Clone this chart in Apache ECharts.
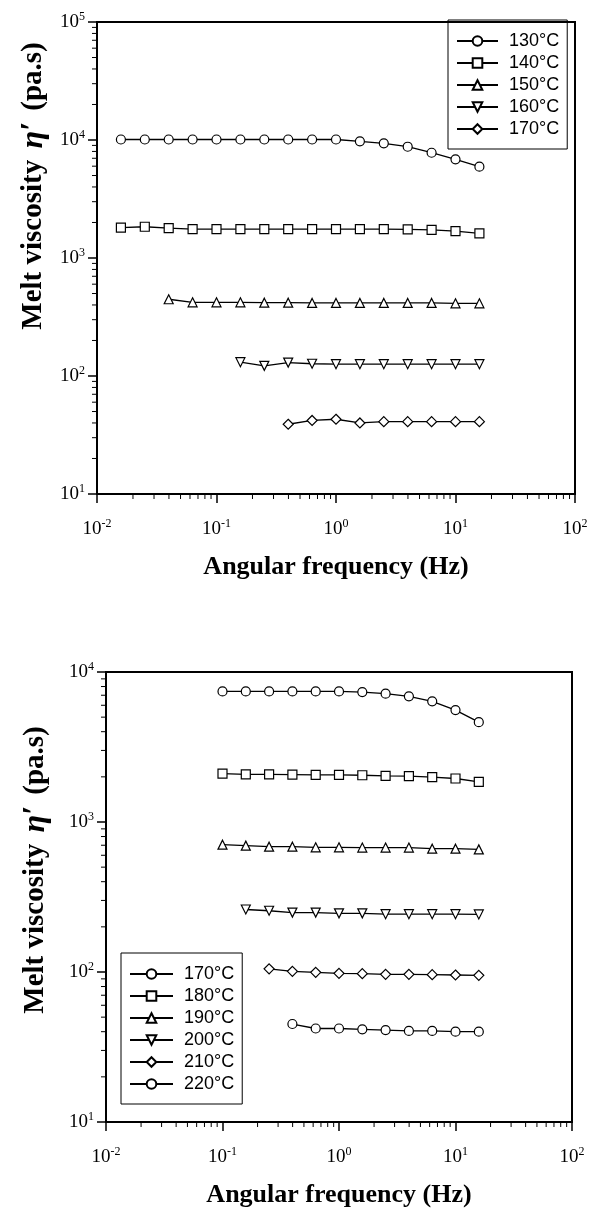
<!DOCTYPE html>
<html>
<head>
<meta charset="utf-8">
<script src="https://cdn.jsdelivr.net/npm/echarts@6/dist/echarts.min.js"></script>
<style>
  html, body { margin: 0; padding: 0; background: #fff; }
  #chart { width: 593px; height: 1209px; }
</style>
</head>
<body>
<div id="chart"></div>
<script>
// Angular frequencies of the sweep (Hz), five points per decade
const freq = [0.01585, 0.02512, 0.03981, 0.0631, 0.1, 0.1585, 0.2512, 0.3981,
              0.631, 1, 1.585, 2.512, 3.981, 6.31, 10, 15.85];

// Upper panel: melt viscosity (Pa.s), 130–170 °C
const topNames = ['130°C', '140°C', '150°C', '160°C', '170°C'];
const v130 = [10100, 10100, 10100, 10100, 10100, 10100, 10100, 10100, 10100, 10100, 9750, 9380, 8770, 7800, 6860, 5940];
const v140 = [1810, 1840, 1790, 1760, 1760, 1760, 1760, 1760, 1760, 1760, 1760, 1760, 1750, 1730, 1690, 1620];
const v150 = [447, 421, 421, 421, 418, 418, 416, 416, 416, 416, 416, 416, 413, 413];
const v160 = [131, 122, 130, 127, 126, 126, 126, 126, 126, 126, 126];
const v170 = [39, 42, 43, 40, 41, 41, 41, 41, 41];

// Lower panel: melt viscosity (Pa.s), 170–220 °C
const bottomNames = ['170°C', '180°C', '190°C', '200°C', '210°C', '220°C'];
const w170 = [7420, 7420, 7420, 7420, 7420, 7420, 7350, 7170, 6880, 6380, 5570, 4630];
const w180 = [2100, 2080, 2080, 2070, 2060, 2060, 2050, 2030, 2020, 1990, 1950, 1850];
const w190 = [706, 696, 685, 685, 678, 678, 675, 675, 675, 664, 664, 657];
const w200 = [261, 256, 249, 249, 246, 246, 243, 243, 243, 243, 242];
const w210 = [105, 101, 99.5, 98, 97.5, 96.5, 96.5, 96, 95.5, 95];
const w220 = [45, 42, 42, 41.5, 41, 40.5, 40.5, 40, 40];

// Axis ranges
const xMin = 0.01, xMax = 100;
const topYMin = 10, topYMax = 100000;
const botYMin = 10, botYMax = 10000;

// Decades and in-between multipliers for the logarithmic minor ticks
const minorMult = [2, 3, 4, 5, 6, 7, 8, 9];
function minorValues(lo, hi) {
  const out = [];
  for (let d = lo; d < hi; d *= 10) minorMult.forEach(m => out.push(d * m));
  return out;
}

// Pair a series with the highest frequencies of the sweep
function pairs(vals) {
  const f = freq.slice(freq.length - vals.length);
  return vals.map((v, i) => [f[i], v]);
}

const downTri = 'path://M0,0 L10,0 L5,9 Z';
const symTop = ['circle', 'rect', 'triangle', downTri, 'diamond'];
const symBottom = ['circle', 'rect', 'triangle', downTri, 'diamond', 'circle'];

const serif = 'Liberation Serif';
const sans = 'Liberation Sans';

const supRich = {
  b: { fontFamily: serif, fontSize: 19, color: '#000' },
  s: { fontFamily: serif, fontSize: 12, color: '#000', padding: [0, 0, 10, 0] }
};
const powLabel = v => '{b|10}{s|' + Math.round(Math.log10(v)) + '}';

function lineSeries(name, vals, sym, gi) {
  return {
    type: 'line', name: name, xAxisIndex: gi, yAxisIndex: gi,
    data: pairs(vals),
    symbol: sym, symbolSize: sym === 'diamond' ? 10 : 9,
    showSymbol: true,
    lineStyle: { color: '#000', width: 1.3 },
    itemStyle: { color: '#fff', borderColor: '#000', borderWidth: 1.2 },
    animation: false, z: 3
  };
}

// Short ticks drawn outside the frame at 2..9 × 10^k
function minorTicks(gi, dim, values, fixed) {
  return {
    type: 'custom', xAxisIndex: gi, yAxisIndex: gi, silent: true, clip: false,
    animation: false,
    data: values.map(v => dim === 'y' ? [fixed, v] : [v, fixed]),
    renderItem: (params, api) => {
      const p = api.coord([api.value(0), api.value(1)]);
      const shape = dim === 'y'
        ? { x1: p[0] - 5, y1: p[1], x2: p[0], y2: p[1] }
        : { x1: p[0], y1: p[1], x2: p[0], y2: p[1] + 5 };
      return { type: 'line', shape: shape, style: { stroke: '#000', lineWidth: 1 } };
    }
  };
}

function xAxisOf(gi) {
  return {
    type: 'log', logBase: 10, gridIndex: gi, min: xMin, max: xMax,
    axisLine: { lineStyle: { color: '#000', width: 2 } },
    axisTick: { inside: false, length: 9, lineStyle: { color: '#000', width: 1.5 } },
    splitLine: { show: false },
    axisLabel: { formatter: powLabel, rich: supRich, margin: 24 },
    name: 'Angular frequency (Hz)', nameLocation: 'middle', nameGap: 60,
    nameTextStyle: { fontFamily: serif, fontWeight: 'bold', fontSize: 26, color: '#000' }
  };
}
function yAxisOf(gi, lo, hi) {
  return {
    type: 'log', logBase: 10, gridIndex: gi, min: lo, max: hi,
    axisLine: { lineStyle: { color: '#000', width: 2 } },
    axisTick: { inside: false, length: 9, lineStyle: { color: '#000', width: 1.5 } },
    splitLine: { show: false },
    axisLabel: { formatter: powLabel, rich: supRich, margin: 12 }
  };
}

function legendOf(names, left, top, itemW) {
  return {
    data: names, orient: 'vertical', left: left, top: top,
    itemWidth: itemW, itemHeight: 12, itemGap: 4,
    padding: [12, 8, 11, 8],
    borderColor: '#000', borderWidth: 1,
    selectedMode: false,
    formatter: n => n.trim(),
    textStyle: { fontFamily: sans, fontSize: 18, color: '#000', padding: [0, 0, 0, 6] }
  };
}

function yTitle(x, y) {
  return {
    type: 'text', x: x, y: y, rotation: Math.PI / 2,
    style: {
      text: '{b|Melt viscosity }{i|η′}{b| (pa.s)}',
      align: 'center', verticalAlign: 'middle',
      rich: {
        b: { fontFamily: serif, fontWeight: 'bold', fontSize: 29, fill: '#000' },
        i: { fontFamily: serif, fontStyle: 'italic', fontWeight: 'bold', fontSize: 32, fill: '#000', padding: [0, 4, 0, 4] }
      }
    }
  };
}

// Second panel's 170 °C series gets a distinct internal name (trimmed in its legend)
const bottomSeriesNames = bottomNames.map((n, i) => i === 0 ? n + ' ' : n);

const option = {
  backgroundColor: '#fff',
  animation: false,
  grid: [
    { left: 97, top: 22, width: 478, height: 472, show: true, borderColor: '#000', borderWidth: 2, backgroundColor: 'transparent' },
    { left: 106, top: 672, width: 466, height: 455, show: true, borderColor: '#000', borderWidth: 2, backgroundColor: 'transparent' }
  ],
  xAxis: [xAxisOf(0), xAxisOf(1)],
  yAxis: [yAxisOf(0, topYMin, topYMax), yAxisOf(1, botYMin, botYMax)],
  legend: [
    legendOf(topNames, 448, 20, 41),
    legendOf(bottomSeriesNames, 121, 953, 43)
  ],
  graphic: [yTitle(34, 186), yTitle(36, 870)],
  series: [
    lineSeries(topNames[0], v130, symTop[0], 0),
    lineSeries(topNames[1], v140, symTop[1], 0),
    lineSeries(topNames[2], v150, symTop[2], 0),
    lineSeries(topNames[3], v160, symTop[3], 0),
    lineSeries(topNames[4], v170, symTop[4], 0),
    lineSeries(bottomSeriesNames[0], w170, symBottom[0], 1),
    lineSeries(bottomSeriesNames[1], w180, symBottom[1], 1),
    lineSeries(bottomSeriesNames[2], w190, symBottom[2], 1),
    lineSeries(bottomSeriesNames[3], w200, symBottom[3], 1),
    lineSeries(bottomSeriesNames[4], w210, symBottom[4], 1),
    lineSeries(bottomSeriesNames[5], w220, symBottom[5], 1),
    minorTicks(0, 'x', minorValues(xMin, xMax), topYMin),
    minorTicks(0, 'y', minorValues(topYMin, topYMax), xMin),
    minorTicks(1, 'x', minorValues(xMin, xMax), botYMin),
    minorTicks(1, 'y', minorValues(botYMin, botYMax), xMin)
  ]
};

const chart = echarts.init(document.getElementById('chart'), null, { renderer: 'canvas' });
chart.setOption(option);
</script>
</body>
</html>
